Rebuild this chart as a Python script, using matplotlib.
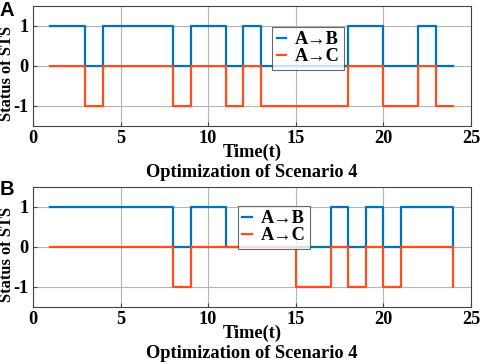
import numpy as np
import matplotlib
matplotlib.use("Agg")
import matplotlib.pyplot as plt

plt.rcParams["axes.unicode_minus"] = False

# hourly time steps
t = list(range(1, 25))

# panel A: status of STS
a_ab = [1, 1, 0, 1, 1, 1, 1, 0, 1, 1, 0, 1, 0, 0, 0, 0, 0, 1, 1, 0, 0, 1, 0, 0]
a_ac = [0, 0, -1, 0, 0, 0, 0, -1, 0, 0, -1, 0, -1, -1, -1, -1, -1, 0, 0, -1, -1, 0, -1, -1]

# panel B
b_ab = [1, 1, 1, 1, 1, 1, 1, 0, 1, 1, 0, 0, 0, 0, 0, 0, 1, 0, 1, 0, 1, 1, 1, 0]
b_ac = [0, 0, 0, 0, 0, 0, 0, -1, 0, 0, 0, 0, 0, 0, -1, -1, 0, -1, 0, -1, 0, 0, 0, -1]

labels = ["A\u2192B", "A\u2192C"]
xticks = [0, 5, 10, 15, 20, 25]
yticks = [-1, 0, 1]

blue = "#0072BD"
orange = "#FF4E1A"
serif = ["Liberation Serif", "DejaVu Serif"]
fs = 13.2

fig = plt.figure(figsize=(4.84, 3.64), dpi=100)

panels = [
    ("A", a_ab, a_ac, [0.068, 0.654, 0.905, 0.33], (0.546, 0.825), 0.997),
    ("B", b_ab, b_ac, [0.068, 0.157, 0.905, 0.33], (0.468, 0.842), 0.505),
]

for letter, ab, ac, rect, leg_pos, ytop in panels:
    ax = fig.add_axes(rect)
    ax.step(t, ab, where="post", color=blue, lw=1.6, label=labels[0])
    ax.step(t, ac, where="post", color=orange, lw=1.6, label=labels[1])
    ax.set_xlim(0, 25)
    ax.set_ylim(-1.5, 1.5)
    ax.set_xticks(xticks)
    ax.set_yticks(yticks)
    ax.grid(True, color="#b4b4b4", lw=0.8)
    ax.set_axisbelow(True)
    for s in ax.spines.values():
        s.set_color("#444444")
        s.set_linewidth(0.8)
    ax.tick_params(direction="in", length=3, color="#444444", pad=3)
    for lab in ax.get_xticklabels() + ax.get_yticklabels():
        lab.set_family(serif)
        lab.set_fontweight("bold")
        lab.set_fontsize(fs)
    ax.set_ylabel("Status of STS", family=serif, fontweight="bold", fontsize=11.8)
    ax.yaxis.set_label_coords(-0.041, 0.44)
    ax.text(0.5, -0.22, "Time(t)", transform=ax.transAxes, ha="center", va="center",
            family=serif, fontweight="bold", fontsize=fs)
    ax.text(0.5, -0.39, "Optimization of Scenario 4", transform=ax.transAxes, ha="center",
            va="center", family=serif, fontweight="bold", fontsize=fs)
    leg = ax.legend(loc="upper left", bbox_to_anchor=leg_pos, borderaxespad=0,
                    handlelength=0.5, handletextpad=0.5, labelspacing=0.0, borderpad=0.25,
                    fancybox=False,
                    prop={"family": serif, "weight": "bold", "size": fs})
    leg.get_frame().set_edgecolor("#444444")
    leg.get_frame().set_linewidth(0.8)
    fig.text(0.0, ytop, letter, fontsize=14.5, fontweight="bold",
             family=["Liberation Sans", "DejaVu Sans"], va="top", ha="left")

fig.savefig("out.png", dpi=100)
